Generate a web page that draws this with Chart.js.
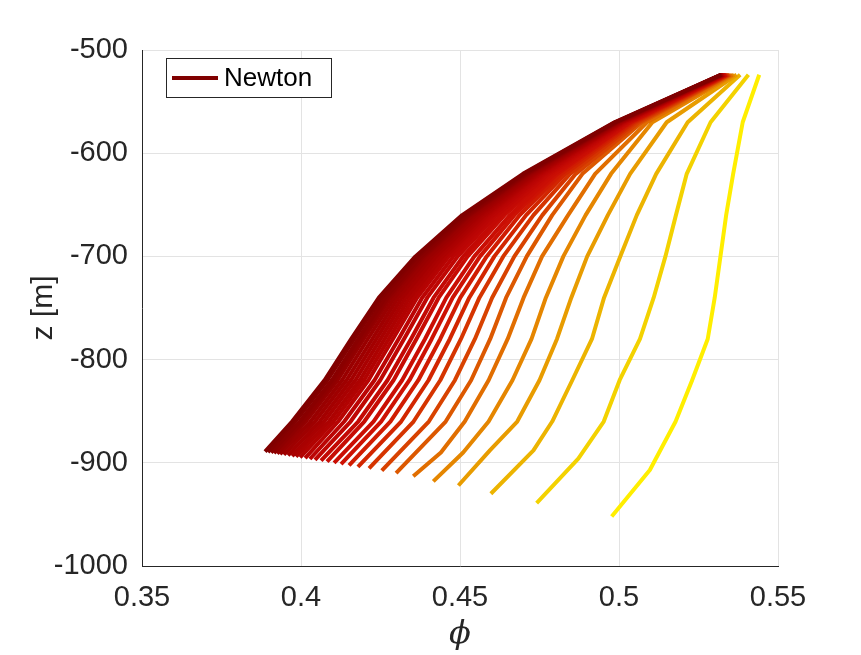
<!DOCTYPE html>
<html>
<head>
<meta charset="utf-8">
<script src="https://cdn.jsdelivr.net/npm/chart.js@4.4.1/dist/chart.umd.min.js"></script>
<style>
  html, body { margin: 0; padding: 0; background: #ffffff; }
  #contenedor { width: 861px; height: 655px; }
</style>
</head>
<body>
<div id="contenedor"><canvas id="grafico" width="861" height="655"></canvas></div>
<script>
// depth levels (m) where each profile is read
const zLevels = [-524, -570, -620, -660, -700, -740, -780, -820, -860];

// porosity of each profile at zLevels (first = earliest, last = Newton)
const phiAtLevels = [
  [0.5441, 0.5389, 0.5359, 0.5337, 0.5319, 0.5301, 0.5279, 0.5230, 0.5178],
  [0.5407, 0.5288, 0.5213, 0.5179, 0.5146, 0.5109, 0.5066, 0.5002, 0.4952],
  [0.5381, 0.5216, 0.5117, 0.5056, 0.5004, 0.4953, 0.4915, 0.4853, 0.4790],
  [0.5370, 0.5150, 0.5035, 0.4965, 0.4900, 0.4850, 0.4805, 0.4750, 0.4680],
  [0.5362, 0.5105, 0.4975, 0.4895, 0.4825, 0.4770, 0.4725, 0.4665, 0.4590],
  [0.5356, 0.5088, 0.4925, 0.4840, 0.4758, 0.4700, 0.4650, 0.4590, 0.4515],
  [0.5350, 0.5072, 0.4885, 0.4790, 0.4710, 0.4645, 0.4595, 0.4535, 0.4455],
  [0.5347, 0.5063, 0.4864, 0.4759, 0.4671, 0.4601, 0.4547, 0.4484, 0.4402],
  [0.5344, 0.5054, 0.4846, 0.4731, 0.4636, 0.4561, 0.4503, 0.4438, 0.4354],
  [0.5341, 0.5047, 0.4831, 0.4708, 0.4608, 0.4529, 0.4468, 0.4401, 0.4315],
  [0.5339, 0.5041, 0.4818, 0.4688, 0.4584, 0.4501, 0.4438, 0.4369, 0.4281],
  [0.5337, 0.5036, 0.4806, 0.4671, 0.4563, 0.4477, 0.4411, 0.4341, 0.4252],
  [0.5336, 0.5032, 0.4797, 0.4657, 0.4545, 0.4457, 0.4390, 0.4318, 0.4228],
  [0.5334, 0.5026, 0.4786, 0.4640, 0.4524, 0.4433, 0.4363, 0.4291, 0.4199],
  [0.5333, 0.5023, 0.4778, 0.4629, 0.4510, 0.4417, 0.4346, 0.4272, 0.4180],
  [0.5331, 0.5019, 0.4769, 0.4615, 0.4493, 0.4397, 0.4324, 0.4249, 0.4156],
  [0.5330, 0.5015, 0.4762, 0.4603, 0.4479, 0.4381, 0.4307, 0.4231, 0.4136],
  [0.5329, 0.5012, 0.4754, 0.4592, 0.4465, 0.4365, 0.4289, 0.4212, 0.4117],
  [0.5328, 0.5009, 0.4748, 0.4583, 0.4454, 0.4353, 0.4276, 0.4198, 0.4102],
  [0.5327, 0.5007, 0.4743, 0.4575, 0.4444, 0.4341, 0.4263, 0.4185, 0.4088],
  [0.5326, 0.5004, 0.4737, 0.4566, 0.4433, 0.4329, 0.4250, 0.4171, 0.4073],
  [0.5325, 0.5001, 0.4732, 0.4558, 0.4423, 0.4317, 0.4237, 0.4157, 0.4059],
  [0.5325, 0.4999, 0.4726, 0.4549, 0.4412, 0.4305, 0.4224, 0.4143, 0.4044],
  [0.5324, 0.4996, 0.4720, 0.4541, 0.4402, 0.4293, 0.4210, 0.4129, 0.4030],
  [0.5323, 0.4994, 0.4715, 0.4532, 0.4391, 0.4281, 0.4197, 0.4115, 0.4015],
  [0.5322, 0.4992, 0.4711, 0.4527, 0.4384, 0.4273, 0.4189, 0.4106, 0.4006],
  [0.5321, 0.4990, 0.4707, 0.4521, 0.4377, 0.4265, 0.4180, 0.4097, 0.3996],
  [0.5321, 0.4988, 0.4702, 0.4513, 0.4367, 0.4253, 0.4167, 0.4083, 0.3982],
  [0.5320, 0.4986, 0.4698, 0.4507, 0.4360, 0.4245, 0.4158, 0.4074, 0.3972]
];

// extra kink near the bottom of the first profiles (null = none)
const phiKnee = [0.5097, 0.4872, 0.4731, 0.4594, 0.4510, 0.4440, null, null, null, null, null, null, null, null, null, null, null, null, null, null, null, null, null, null, null, null, null, null, null];
const zKnee = [-907, -896, -888, -888, -890, -890, null, null, null, null, null, null, null, null, null, null, null, null, null, null, null, null, null, null, null, null, null, null, null];

// bottom end of each profile
const phiEnd = [0.4977, 0.4741, 0.4597, 0.4495, 0.4416, 0.4353, 0.4299, 0.4254, 0.4214, 0.4179, 0.4151, 0.4126, 0.4104, 0.4082, 0.4063, 0.4044, 0.4028, 0.4013, 0.3997, 0.3984, 0.3972, 0.3959, 0.3946, 0.3934, 0.3925, 0.3915, 0.3906, 0.3896, 0.3887];
const zEnd = [-952, -939, -930, -922, -918, -913, -910, -907.6, -905.5, -903.9, -902.4, -901.2, -900.1, -898.9, -898.0, -897.1, -896.3, -895.5, -894.8, -894.1, -893.5, -892.8, -892.2, -891.6, -891.1, -890.7, -890.2, -889.7, -889.2];

const phiTicks = [0.35, 0.4, 0.45, 0.5, 0.55];
const zTicks = [-1000, -900, -800, -700, -600, -500];
const legendLabel = "Newton";

const fuente = '"Liberation Sans", Arial, Helvetica, sans-serif';
const colorTexto = "#262626";

// yellow -> orange -> red -> dark red
const paradas = [
  [0.000, [255, 238, 0]],
  [0.036, [243, 210, 0]],
  [0.071, [236, 180, 0]],
  [0.107, [232, 156, 0]],
  [0.143, [229, 134, 0]],
  [0.179, [225, 110, 0]],
  [0.214, [220, 88, 0]],
  [0.250, [216, 66, 0]],
  [0.320, [210, 38, 0]],
  [0.400, [205, 16, 4]],
  [0.550, [190, 6, 4]],
  [0.750, [164, 0, 0]],
  [1.000, [128, 0, 0]]
];

function colorMapa(t) {
  for (let i = 1; i < paradas.length; i++) {
    const [t1, c1] = paradas[i];
    const [t0, c0] = paradas[i - 1];
    if (t <= t1) {
      const f = (t - t0) / (t1 - t0);
      const c = c0.map((v, j) => Math.round(v + f * (c1[j] - v)));
      return `rgb(${c[0]}, ${c[1]}, ${c[2]})`;
    }
  }
  return "rgb(128, 0, 0)";
}

const n = phiAtLevels.length;

const datasets = phiAtLevels.map((fila, k) => {
  const puntos = zLevels.map((z, i) => ({ x: fila[i], y: z }));
  if (phiKnee[k] !== null) {
    puntos.push({ x: phiKnee[k], y: zKnee[k] });
  }
  puntos.push({ x: phiEnd[k], y: zEnd[k] });
  return {
    label: k === n - 1 ? legendLabel : "",
    data: puntos,
    showLine: true,
    borderColor: colorMapa(k / (n - 1)),
    backgroundColor: colorMapa(k / (n - 1)),
    borderWidth: 4,
    borderJoinStyle: "round",
    pointRadius: 0,
    tension: 0,
    fill: false,
    order: n - k
  };
});

// legend box drawn inside the plot area, like the original figure
const leyendaInterna = {
  id: "leyendaInterna",
  afterDraw(chart) {
    const ctx = chart.ctx;
    const area = chart.chartArea;
    const ultimo = chart.data.datasets[n - 1];
    const x = area.left + 24;
    const y = area.top + 8;
    const ancho = 165;
    const alto = 39;
    ctx.save();
    ctx.fillStyle = "#ffffff";
    ctx.fillRect(x, y, ancho, alto);
    ctx.strokeStyle = colorTexto;
    ctx.lineWidth = 1;
    ctx.strokeRect(x + 0.5, y + 0.5, ancho, alto);
    ctx.strokeStyle = ultimo.borderColor;
    ctx.lineWidth = 4;
    ctx.beginPath();
    ctx.moveTo(x + 6, y + 20);
    ctx.lineTo(x + 52, y + 20);
    ctx.stroke();
    ctx.fillStyle = "#000000";
    ctx.font = `26px ${fuente}`;
    ctx.textBaseline = "middle";
    ctx.textAlign = "left";
    ctx.fillText(ultimo.label, x + 58, y + 21);
    ctx.restore();
  }
};

const contexto = document.getElementById("grafico");

new Chart(contexto, {
  type: "scatter",
  data: { datasets: datasets },
  options: {
    responsive: false,
    animation: false,
    devicePixelRatio: 1,
    layout: { padding: { top: 50, right: 83, left: 0, bottom: 0 } },
    plugins: {
      legend: { display: false },
      tooltip: { enabled: false }
    },
    scales: {
      x: {
        type: "linear",
        position: "bottom",
        min: 0.35,
        max: 0.55,
        afterBuildTicks: (scale) => {
          scale.ticks = phiTicks.map((v) => ({ value: v }));
        },
        afterFit: (scale) => {
          scale.height = 89;
        },
        ticks: {
          callback: (v) => String(v),
          color: colorTexto,
          font: { family: fuente, size: 29 },
          padding: 15,
          maxRotation: 0
        },
        grid: { color: "#e3e3e3", lineWidth: 1, drawTicks: false },
        border: { display: true, color: colorTexto, width: 1 },
        title: {
          display: true,
          text: "ϕ",
          color: colorTexto,
          font: { family: '"DejaVu Serif", serif', size: 32, style: "italic" },
          padding: { top: 0, bottom: 1 }
        }
      },
      y: {
        type: "linear",
        position: "left",
        min: -1000,
        max: -500,
        afterBuildTicks: (scale) => {
          scale.ticks = zTicks.map((v) => ({ value: v }));
        },
        afterFit: (scale) => {
          scale.width = 142;
        },
        ticks: {
          callback: (v) => String(v),
          color: colorTexto,
          font: { family: fuente, size: 29 },
          padding: 14
        },
        grid: { color: "#e3e3e3", lineWidth: 1, drawTicks: false },
        border: { display: true, color: colorTexto, width: 1 },
        title: {
          display: true,
          text: "z [m]",
          color: colorTexto,
          font: { family: fuente, size: 30 },
          padding: { top: 26, bottom: 0 }
        }
      }
    }
  },
  plugins: [leyendaInterna]
});
</script>
</body>
</html>
